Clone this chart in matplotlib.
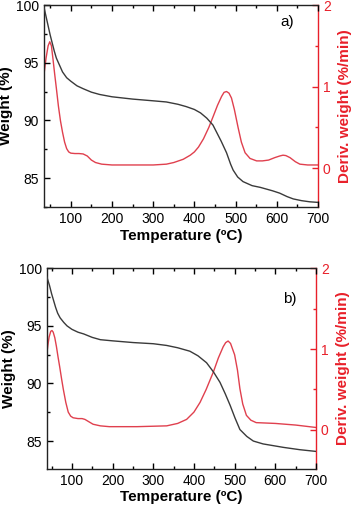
import matplotlib
matplotlib.use("Agg")
import matplotlib.pyplot as plt
from matplotlib.ticker import MultipleLocator

plt.rcParams['font.family'] = ['Liberation Sans', 'DejaVu Sans']

# Panel a) weight (%)
temp_wa = [35, 40, 45, 50, 55, 60, 65, 70, 75, 80, 90, 100, 115, 130, 150, 170, 200, 250, 300, 332,
           360, 380, 400, 415, 430, 445, 455, 465, 478, 488, 494, 505, 518, 540, 560, 575, 590, 607,
           625, 640, 660, 680, 700]
weight_a = [99.8, 99.0, 98.2, 97.4, 96.7, 96.0, 95.4, 95.0, 94.6, 94.2, 93.7, 93.4, 93.0, 92.75, 92.45,
            92.25, 92.05, 91.85, 91.7, 91.6, 91.4, 91.2, 90.95, 90.65, 90.2, 89.6, 88.9, 88.2, 87.2,
            86.2, 85.7, 85.1, 84.7, 84.35, 84.2, 84.05, 83.9, 83.7, 83.4, 83.2, 83.05, 82.95, 82.9]
# Panel a) derivative (%/min)
temp_da = [35, 40, 45, 49, 53, 57, 61, 65, 70, 75, 80, 85, 90, 95, 100, 110, 120, 130, 140, 150, 160,
           175, 200, 250, 300, 332, 350, 373, 390, 400, 410, 422, 435, 446, 456, 466, 472, 478, 484,
           490, 497, 506, 514, 523, 535, 551, 565, 580, 595, 607, 615, 622, 632, 645, 656, 675, 700]
deriv_a = [1.15, 1.35, 1.50, 1.55, 1.50, 1.33, 1.15, 0.98, 0.76, 0.58, 0.44, 0.32, 0.24, 0.20, 0.185,
           0.18, 0.18, 0.175, 0.15, 0.10, 0.07, 0.05, 0.04, 0.04, 0.04, 0.05, 0.07, 0.11, 0.16, 0.20,
           0.26, 0.36, 0.50, 0.64, 0.77, 0.88, 0.93, 0.94, 0.92, 0.86, 0.72, 0.50, 0.32, 0.19, 0.12,
           0.09, 0.09, 0.10, 0.13, 0.15, 0.16, 0.155, 0.13, 0.08, 0.05, 0.04, 0.04]

# Panel b) weight (%)
temp_wb = [38, 45, 50, 55, 60, 65, 71, 80, 88, 100, 115, 129, 150, 170, 200, 251, 300, 333, 360, 390,
           410, 431, 448, 464, 477, 489, 501, 513, 530, 546, 570, 620, 660, 700]
weight_b = [99.3, 98.5, 97.8, 97.2, 96.6, 96.1, 95.7, 95.3, 95.0, 94.7, 94.45, 94.3, 94.0, 93.8, 93.7,
            93.55, 93.45, 93.3, 93.1, 92.8, 92.4, 91.8, 91.0, 90.1, 89.1, 88.1, 87.0, 86.0, 85.4, 85.0,
            84.75, 84.45, 84.25, 84.1]
# Panel b) derivative (%/min)
temp_db = [38, 41, 44, 48, 51, 54, 58, 62, 66, 70, 75, 79, 85, 91, 97, 103, 115, 125, 132, 142, 152,
           170, 192, 260, 333, 360, 382, 400, 415, 430, 448, 460, 472, 478, 484, 490, 500, 507, 513,
           520, 529, 540, 553, 600, 650, 700]
deriv_b = [0.93, 1.05, 1.15, 1.22, 1.23, 1.21, 1.14, 1.03, 0.90, 0.78, 0.62, 0.50, 0.34, 0.22, 0.17,
           0.15, 0.14, 0.14, 0.13, 0.10, 0.07, 0.05, 0.04, 0.04, 0.05, 0.08, 0.13, 0.22, 0.34, 0.50,
           0.72, 0.89, 1.03, 1.08, 1.10, 1.07, 0.93, 0.74, 0.51, 0.32, 0.18, 0.12, 0.09, 0.08, 0.06, 0.03]

x_ticks = [100, 200, 300, 400, 500, 600, 700]
wt_ticks = [85, 90, 95, 100]
der_ticks = [0, 1, 2]

RED = '#e8202a'
LRED = '#e0404e'

fig = plt.figure(figsize=(3.58, 5.12), dpi=100)

panels = [
    dict(rect=[0.1229, 0.5957, 0.7654, 0.3945], xlim=(35, 700), ylim=(82.5, 100), y2lim=(-0.475, 2),
         tw=temp_wa, w=weight_a, td=temp_da, d=deriv_a, label='a)', lpos=(0.887, 0.916)),
    dict(rect=[0.1304, 0.0846, 0.7522, 0.3914], xlim=(38, 700), ylim=(82.6, 100), y2lim=(-0.48, 2),
         tw=temp_wb, w=weight_b, td=temp_db, d=deriv_b, label='b)', lpos=(0.903, 0.847)),
]

for p in panels:
    ax = fig.add_axes(p['rect'])
    ax2 = ax.twinx()
    ax2.plot(p['td'], p['d'], color=LRED, lw=1.0)
    ax.plot(p['tw'], p['w'], color='#3a3a3a', lw=1.0, zorder=3)
    ax.set_zorder(ax2.get_zorder() + 1)
    ax.patch.set_visible(False)
    ax.set_xlim(*p['xlim'])
    ax.set_ylim(*p['ylim'])
    ax2.set_ylim(*p['y2lim'])
    ax.set_xticks(x_ticks)
    ax.set_yticks(wt_ticks)
    ax2.set_yticks(der_ticks)
    ax.xaxis.set_minor_locator(MultipleLocator(50))
    ax.yaxis.set_minor_locator(MultipleLocator(2.5))
    ax2.yaxis.set_minor_locator(MultipleLocator(0.5))
    ax.tick_params(which='both', direction='in', top=True, labelsize=10, width=1.0)
    ax.tick_params(which='major', length=4)
    ax.tick_params(which='minor', length=2)
    ax.tick_params(axis='y', which='both', right=False)
    ax2.tick_params(which='both', direction='in', colors=RED, labelsize=10, width=1.0)
    ax2.tick_params(which='major', length=4)
    ax2.tick_params(which='minor', length=2)
    for s in ['left', 'top', 'bottom']:
        ax.spines[s].set_linewidth(1.0)
        ax.spines[s].set_color('#222222')
    ax.spines['right'].set_visible(False)
    ax2.spines['right'].set_color(RED)
    ax2.spines['right'].set_linewidth(1.0)
    for s in ['left', 'top', 'bottom']:
        ax2.spines[s].set_visible(False)
    ax.set_xlabel('Temperature (ºC)', fontsize=11, fontweight='bold', labelpad=2)
    ax.set_ylabel('Weight (%)', fontsize=11, fontweight='bold', labelpad=2)
    ax2.set_ylabel('Deriv. weight (%/min)', fontsize=11, fontweight='bold', color=RED, labelpad=5)
    ax.text(p['lpos'][0], p['lpos'][1], p['label'], transform=ax.transAxes, fontsize=11,
            ha='center', va='center')

fig.savefig('out.png', dpi=100)
